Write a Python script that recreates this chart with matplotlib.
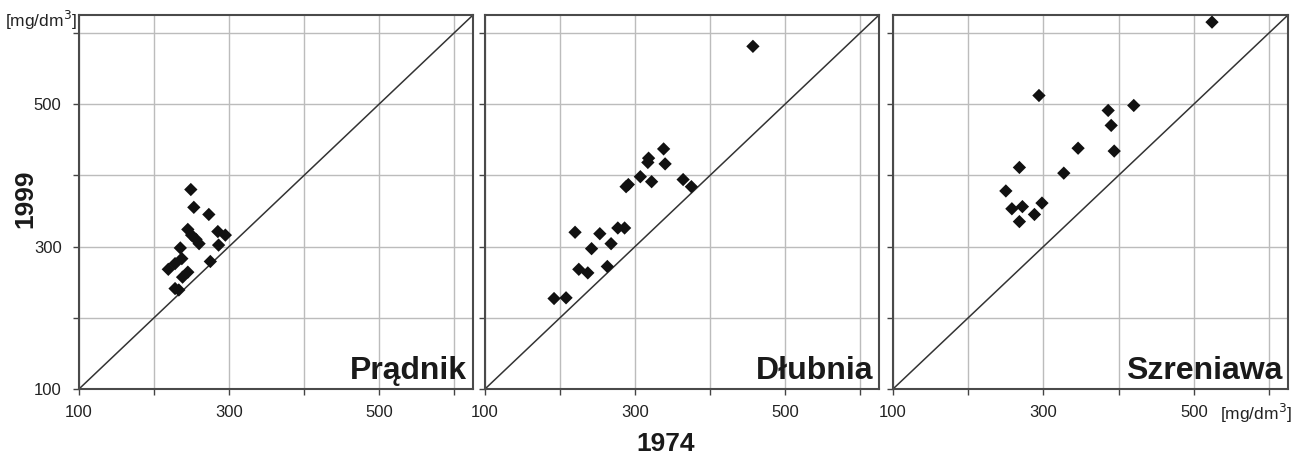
import matplotlib
matplotlib.use("Agg")
import matplotlib.pyplot as plt
from matplotlib import font_manager

# ---- data (mg/dm3): 1974 (x) vs 1999 (y) ----
rivers = ["Prądnik", "Dłubnia", "Szreniawa"]
prad_1974 = [249, 253, 273, 245, 250, 256, 260, 285, 295, 286, 235, 228, 237, 219, 275, 238, 245, 228, 233]
prad_1999 = [380, 355, 345, 324, 316, 310, 304, 321, 316, 302, 298, 276, 283, 268, 279, 257, 264, 241, 239]
dlub_1974 = [457, 338, 318, 317, 340, 307, 322, 288, 291, 364, 375, 220, 253, 277, 286, 242, 268, 225, 237, 263, 192, 208]
dlub_1999 = [581, 437, 424, 418, 416, 398, 391, 384, 387, 394, 384, 320, 318, 326, 326, 297, 304, 268, 263, 272, 227, 228]
szre_1974 = [524, 294, 386, 420, 390, 346, 394, 268, 327, 250, 258, 272, 298, 288, 268]
szre_1999 = [615, 512, 491, 498, 470, 438, 434, 411, 403, 378, 353, 356, 361, 345, 335]
tick_values = [100, 200, 300, 400, 500, 600]
tick_labels = ["100", "", "300", "", "500", ""]
axis_min, axis_max = 100, 625
unit = "[mg/dm$^3$]"

series = [(prad_1974, prad_1999), (dlub_1974, dlub_1999), (szre_1974, szre_1999)]

names = {f.name for f in font_manager.fontManager.ttflist}
if "Liberation Sans Narrow" in names:
    narrow, tsize = "Liberation Sans Narrow", 13
else:
    narrow, tsize = "Liberation Sans", 12
bold_font = "Liberation Sans"

W, H = 1296, 455
fig = plt.figure(figsize=(W / 100, H / 100), dpi=100)
lefts = [79, 485, 893]
widths = [394, 394, 395]
top_px, bot_px = 15, 389

for i, (name, (xs, ys)) in enumerate(zip(rivers, series)):
    ax = fig.add_axes([lefts[i] / W, (H - bot_px) / H, widths[i] / W, (bot_px - top_px) / H])
    ax.set_xlim(axis_min, axis_max)
    ax.set_ylim(axis_min, axis_max)
    ax.set_xticks(tick_values)
    ax.set_yticks(tick_values)
    ax.set_xticklabels(tick_labels, fontfamily=narrow, fontsize=tsize, color="#222222")
    if i == 0:
        ax.set_yticklabels(tick_labels, fontfamily=narrow, fontsize=tsize, color="#222222")
    else:
        ax.set_yticklabels([])
    ax.tick_params(axis="both", direction="out", length=4.5, width=1, color="#444444")
    ax.tick_params(axis="x", pad=7)
    ax.tick_params(axis="y", pad=8)
    ax.grid(True, color="#bcbcbc", linewidth=1.0)
    ax.set_axisbelow(True)
    for sp in ax.spines.values():
        sp.set_color("#4a4a4a")
        sp.set_linewidth(1.5)
    ax.plot([axis_min, axis_max], [axis_min, axis_max], color="#333333", linewidth=1.1, zorder=2)
    ax.scatter(xs, ys, marker="D", s=46, color="#111111", edgecolors="none", zorder=3)
    ax.text(0.985, 0.028, name, transform=ax.transAxes, ha="right", va="baseline",
            fontfamily=bold_font, fontweight="bold", fontsize=23, color="#1a1a1a")

# unit labels
fig.text(77 / W, 1 - 20 / H, unit, ha="right", va="center", fontfamily=narrow, fontsize=tsize + 0.5, color="#222222")
fig.text(1220 / W, 1 - 413 / H, unit, ha="left", va="center", fontfamily=narrow, fontsize=tsize + 0.5, color="#222222")

# axis titles
fig.text(666 / W, 1 - 444 / H, "1974", ha="center", va="center", fontfamily=bold_font,
         fontweight="bold", fontsize=19, color="#1a1a1a")
fig.text(25 / W, 1 - 199 / H, "1999", ha="center", va="center", rotation=90, fontfamily=bold_font,
         fontweight="bold", fontsize=19, color="#1a1a1a")

fig.savefig("out.png", dpi=100, facecolor="white")
